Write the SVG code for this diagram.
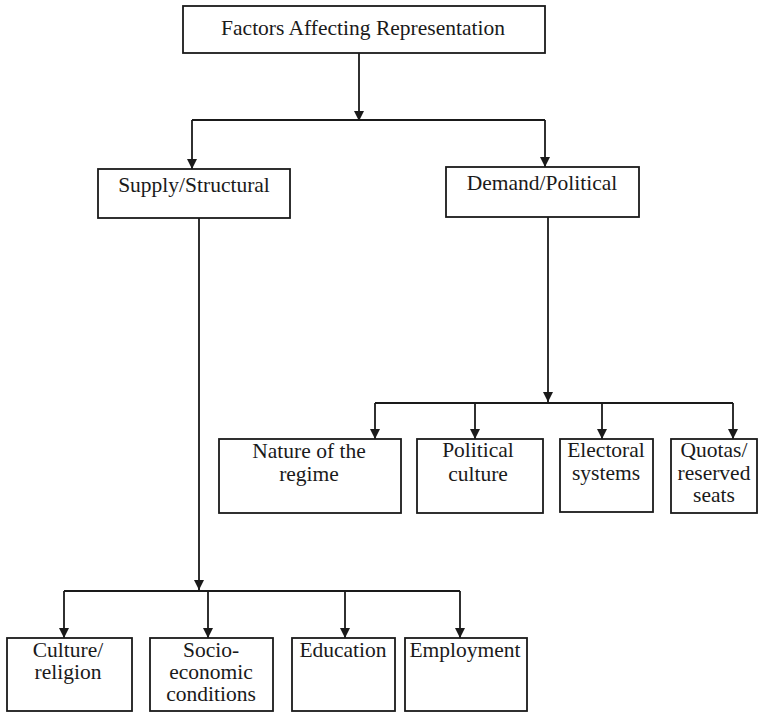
<svg xmlns="http://www.w3.org/2000/svg" width="759" height="712" viewBox="0 0 759 712">
<style>
rect.box{fill:#fff;stroke:#1a1a1a;stroke-width:1.8}
.lbl{font-family:'Liberation Serif','DejaVu Serif',serif;font-size:21.5px;fill:#1a1a1a;text-anchor:middle}
.conn line{stroke:#1a1a1a;stroke-width:1.8;fill:none}
</style>
<defs>
<marker id="ah" markerWidth="10" markerHeight="10" refX="10" refY="5" orient="auto" markerUnits="userSpaceOnUse">
<path d="M0,0 L10,5 L0,10 Z" fill="#1a1a1a"/>
</marker>
</defs>
<rect width="759" height="712" fill="#fff"/>
<g class="conn">
<line x1="359" y1="53" x2="359" y2="121" marker-end="url(#ah)"/>
<line x1="192" y1="120" x2="545" y2="120"/>
<line x1="192" y1="120" x2="192" y2="169" marker-end="url(#ah)"/>
<line x1="545" y1="120" x2="545" y2="167" marker-end="url(#ah)"/>
<line x1="199" y1="218" x2="199" y2="590" marker-end="url(#ah)"/>
<line x1="548" y1="217" x2="548" y2="402" marker-end="url(#ah)"/>
<line x1="375" y1="403" x2="733" y2="403"/>
<line x1="375" y1="403" x2="375" y2="439" marker-end="url(#ah)"/>
<line x1="475" y1="403" x2="475" y2="439" marker-end="url(#ah)"/>
<line x1="602" y1="403" x2="602" y2="439" marker-end="url(#ah)"/>
<line x1="733" y1="403" x2="733" y2="439" marker-end="url(#ah)"/>
<line x1="64" y1="591" x2="460" y2="591"/>
<line x1="64" y1="591" x2="64" y2="638" marker-end="url(#ah)"/>
<line x1="208" y1="591" x2="208" y2="638" marker-end="url(#ah)"/>
<line x1="345" y1="591" x2="345" y2="638" marker-end="url(#ah)"/>
<line x1="460" y1="591" x2="460" y2="638" marker-end="url(#ah)"/>
</g>
<g class="lbl" font-family="Liberation Serif, serif">
<g id="root"><rect class="box" x="183" y="6" width="362" height="47"/><text x="363" y="35">Factors Affecting Representation</text></g>
<g id="supply"><rect class="box" x="98" y="169" width="192" height="49"/><text x="194" y="192">Supply/Structural</text></g>
<g id="demand"><rect class="box" x="446" y="167" width="193" height="50"/><text x="542" y="190">Demand/Political</text></g>
<g id="nature"><rect class="box" x="219" y="439" width="182" height="74"/><text x="309" y="458">Nature of the</text><text x="309" y="481">regime</text></g>
<g id="politicalculture"><rect class="box" x="417" y="439" width="126" height="74"/><text x="478" y="457">Political</text><text x="478" y="481">culture</text></g>
<g id="electoral"><rect class="box" x="560" y="439" width="93" height="73"/><text x="606" y="457">Electoral</text><text x="606" y="480">systems</text></g>
<g id="quotas"><rect class="box" x="671" y="439" width="86" height="74"/><text x="714" y="457">Quotas/</text><text x="714" y="480">reserved</text><text x="714" y="502">seats</text></g>
<g id="culture"><rect class="box" x="7" y="638" width="125" height="73"/><text x="68" y="657">Culture/</text><text x="68" y="679">religion</text></g>
<g id="socio"><rect class="box" x="150" y="638" width="123" height="73"/><text x="211" y="657">Socio-</text><text x="211" y="679">economic</text><text x="211" y="701">conditions</text></g>
<g id="education"><rect class="box" x="292" y="638" width="103" height="73"/><text x="343" y="657">Education</text></g>
<g id="employment"><rect class="box" x="405" y="638" width="122" height="73"/><text x="465" y="657">Employment</text></g>
</g>
</svg>
